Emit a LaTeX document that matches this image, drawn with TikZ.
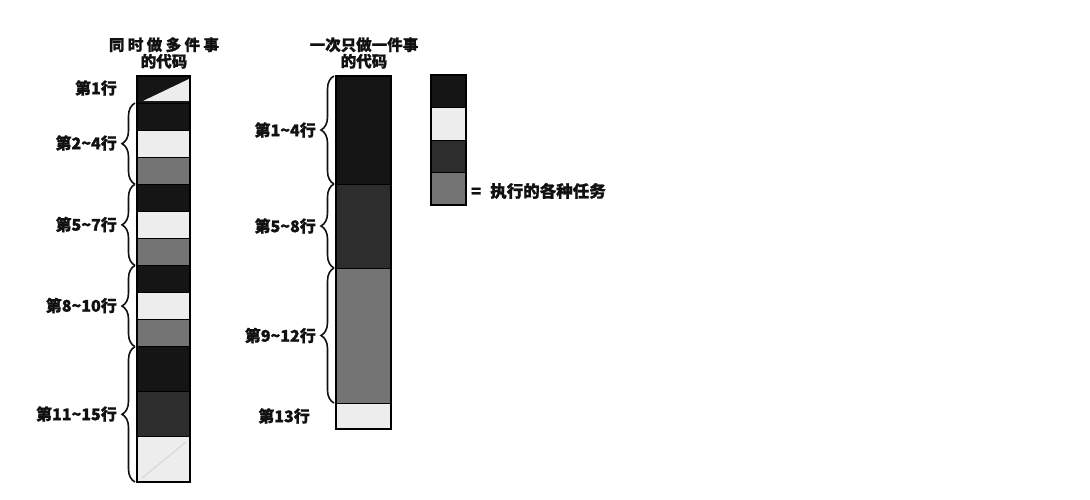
\documentclass[tikz,border=0pt]{standalone}
\usepackage{fontspec}
\newfontfamily\cjk[BoldFeatures={FakeBold=1.2}]{Noto Sans CJK SC}
\usetikzlibrary{decorations.pathreplacing}
\definecolor{blk}{HTML}{151515}
\definecolor{drk}{HTML}{2D2D2D}
\definecolor{gry}{HTML}{747474}
\definecolor{lgt}{HTML}{EDEDED}
\definecolor{txt}{HTML}{111111}
\tikzset{
  cell/.style={draw=black, line width=0.9pt},
  frame/.style={draw=black, line width=1.6pt},
  brc/.style={draw=txt, line width=1.6pt, decorate, decoration={brace, amplitude=13pt}},
  lab/.style={anchor=east, text=txt, inner sep=0pt, font=\cjk\bfseries\fontsize{16}{18}\selectfont},
  ttl/.style={text=txt, inner sep=0pt, align=center, font=\cjk\bfseries\fontsize{15.5}{16.5}\selectfont}
}
\begin{document}
\begin{tikzpicture}[x=1pt,y=-1pt]
\useasboundingbox (0,0) rectangle (1090,500);
% ---------- left column ----------
\path[cell, fill=blk] (137,76) rectangle (190,103.07);
\path[fill=lgt] (143,101) -- (189,79) -- (189,101) -- cycle;
\path[cell, fill=blk] (137,103.07) rectangle (190,130.13);
\path[cell, fill=lgt] (137,130.13) rectangle (190,157.2);
\path[cell, fill=gry] (137,157.2) rectangle (190,184.27);
\path[cell, fill=blk] (137,184.27) rectangle (190,211.33);
\path[cell, fill=lgt] (137,211.33) rectangle (190,238.4);
\path[cell, fill=gry] (137,238.4) rectangle (190,265.47);
\path[cell, fill=blk] (137,265.47) rectangle (190,292.53);
\path[cell, fill=lgt] (137,292.53) rectangle (190,319.6);
\path[cell, fill=gry] (137,319.6) rectangle (190,346.67);
\path[cell, fill=blk] (137,346.67) rectangle (190,391.78);
\path[cell, fill=drk] (137,391.78) rectangle (190,436.89);
\path[cell, fill=lgt] (137,436.89) rectangle (190,482);
\draw[gray!40, line width=0.6pt] (142,478) -- (186,442);
\path[frame] (137,76) rectangle (190,482);
% braces left
\coordinate (L1) at (135,103.07);
\coordinate (L4) at (135,184.27);
\coordinate (L7) at (135,265.47);
\coordinate (L10) at (135,346.67);
\coordinate (L15) at (135,482);
\draw[brc] (L4) -- (L1);
\draw[brc] (L7) -- (L4);
\draw[brc] (L10) -- (L7);
\draw[brc] (L15) -- (L10);
\node[lab] (la1) at (117,88) {第1行};
\node[lab] (la2) at (117,143) {第2\textasciitilde4行};
\node[lab] (la3) at (117,224.5) {第5\textasciitilde7行};
\node[lab] (la4) at (117,305.5) {第8\textasciitilde10行};
\node[lab] (la5) at (117,414) {第11\textasciitilde15行};
\node[ttl] (t1) at (164,53) {\makebox[110pt][s]{同\hfill 时\hfill 做\hfill 多\hfill 件\hfill 事}\\的代码};
% ---------- right column ----------
\path[cell, fill=blk] (336,76) rectangle (391,184);
\path[cell, fill=drk] (336,184) rectangle (391,268);
\path[cell, fill=gry] (336,268) rectangle (391,403);
\path[cell, fill=lgt] (336,403) rectangle (391,429);
\path[frame] (336,76) rectangle (391,429);
\coordinate (R0) at (334,76);
\coordinate (R4) at (334,184);
\coordinate (R8) at (334,268);
\coordinate (R12) at (334,403);
\draw[brc] (R4) -- (R0);
\draw[brc] (R8) -- (R4);
\draw[brc] (R12) -- (R8);
\node[lab] (ra1) at (316,130) {第1\textasciitilde4行};
\node[lab] (ra2) at (316,226) {第5\textasciitilde8行};
\node[lab] (ra3) at (316,335.5) {第9\textasciitilde12行};
\node[lab] (ra4) at (310,416) {第13行};
\node[ttl] (t2) at (364,53) {一次只做一件事\\的代码};
% ---------- legend ----------
\path[cell, fill=blk] (431,75) rectangle (466,107.5);
\path[cell, fill=lgt] (431,107.5) rectangle (466,140);
\path[cell, fill=drk] (431,140) rectangle (466,172.5);
\path[cell, fill=gry] (431,172.5) rectangle (466,205);
\path[frame] (431,75) rectangle (466,205);
\node[anchor=west, text=txt, inner sep=0pt, font=\cjk\bfseries\fontsize{16.5}{18}\selectfont] (leg) at (471,191) {=\hspace{9pt}\makebox[113pt][s]{执\hfill 行\hfill 的\hfill 各\hfill 种\hfill 任\hfill 务}};
\end{tikzpicture}
\end{document}
